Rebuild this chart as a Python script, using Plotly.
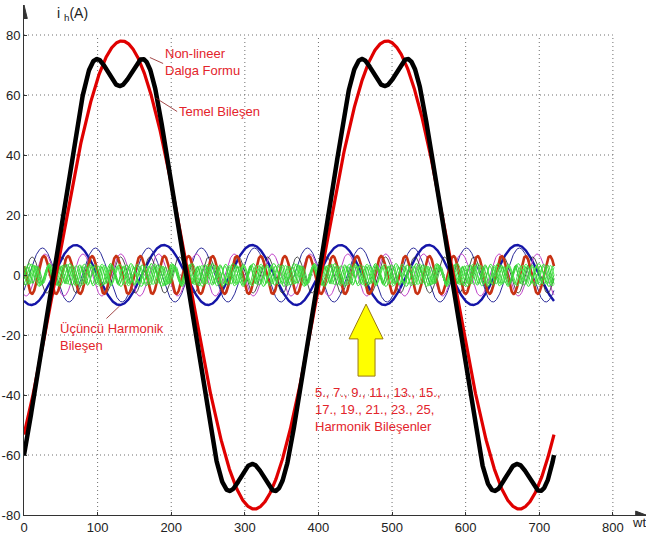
import numpy as np
import plotly.graph_objects as go

# ---------------- data ----------------
WT_RANGE = [0, 720]                 # plotted wt interval (degrees)
X_TICKS = [0, 100, 200, 300, 400, 500, 600, 700, 800]
Y_TICKS = [-80, -60, -40, -20, 0, 20, 40, 60, 80]

# fundamental (Temel Bileşen): amplitude / phase lag (deg)
FUND_AMP = 78
FUND_PHASE = 43

# non-linear waveform: odd-harmonic content around its own zero crossing
NONLIN_ORDERS = [1, 3, 5]
NONLIN_AMPS = [77.8, 9.5, -5.3]
NONLIN_ZERO = 40

# harmonic components (3rd ... 25th)
HARM_ORDERS = [3, 5, 7, 9, 11, 13, 15, 17, 19, 21, 23, 25]
HARM_AMPS = [10, 9, 7, 6, 6.3, 3.8, 3.6, 3.4, 3.2, 3.0, 2.9, 2.8]
HARM_PHASES = [120, 35, 110, 10, 208, 0, 60, 120, 180, 240, 300, 30]

# ---------------- styles ----------------
HARM_COLORS = ["#1515a8", "#2b2b9a", "#c040c8", "#222222", "#c83214",
               "#33dd33", "#44e844", "#2fcf2f", "#55ee55", "#3ad83a", "#4be04b", "#38d038"]
HARM_WIDTHS = [2.4, 1.0, 1.0, 0.8, 2.6, 1.0, 1.0, 1.0, 1.0, 1.0, 1.0, 1.0]
TXT_RED = "#e3242b"
FONT = "Liberation Sans, Arial, sans-serif"

wt = np.arange(WT_RANGE[0], WT_RANGE[1] + 0.25, 0.5)
rad = np.deg2rad

fig = go.Figure()

for n, a, p, c, w in zip(HARM_ORDERS, HARM_AMPS, HARM_PHASES, HARM_COLORS, HARM_WIDTHS):
    fig.add_trace(go.Scatter(x=wt, y=a * np.sin(rad(n * wt - p)), mode="lines",
                             line=dict(color=c, width=w), hoverinfo="skip"))

fund = FUND_AMP * np.sin(rad(wt - FUND_PHASE))
fig.add_trace(go.Scatter(x=wt, y=fund, mode="lines",
                         line=dict(color="#e00000", width=3.2), hoverinfo="skip"))

nonlin = sum(a * np.sin(rad(n * (wt - NONLIN_ZERO))) for n, a in zip(NONLIN_ORDERS, NONLIN_AMPS))
fig.add_trace(go.Scatter(x=wt, y=nonlin, mode="lines",
                         line=dict(color="#000000", width=4.5), hoverinfo="skip"))

# ---------------- dotted grid limited to the tick box ----------------
grid = dict(color="#6e6e6e", width=1, dash="1px,3px")
shapes = []
for t in X_TICKS[1:]:
    shapes.append(dict(type="line", xref="x", yref="y", x0=t, x1=t, y0=Y_TICKS[0], y1=Y_TICKS[-1],
                       line=grid, layer="below"))
for t in Y_TICKS[1:]:
    shapes.append(dict(type="line", xref="x", yref="y", x0=X_TICKS[0], x1=X_TICKS[-1], y0=t, y1=t,
                       line=grid, layer="below"))

# leader lines for the labels
lead = dict(color="#8b1a1a", width=0.8)
shapes.append(dict(type="line", xref="x", yref="y", x0=171, y0=72.5, x1=189, y1=70.5, line=lead))
shapes.append(dict(type="line", xref="x", yref="y", x0=179, y0=59, x1=208, y1=54.5, line=lead))
shapes.append(dict(type="line", xref="x", yref="y", x0=130, y0=-10.3, x1=112, y1=-14.5, line=lead))

# yellow arrow
shapes.append(dict(type="path", xref="x", yref="y",
                   path="M 464.7,-9.7 L 487.8,-21.3 L 476.9,-21.3 L 476.9,-33.7 "
                        "L 453.8,-33.7 L 453.8,-21.3 L 441.6,-21.3 Z",
                   fillcolor="#ffff00", line=dict(color="#9a7a10", width=1)))

# axis arrowheads
shapes.append(dict(type="path", xref="x", yref="y", path="M 845,-80 L 831,-78.7 L 831,-81.3 Z",
                   fillcolor="#333", line=dict(color="#333", width=1)))
shapes.append(dict(type="path", xref="x", yref="y", path="M 0,90 L -4.5,85.5 L 4.5,85.5 Z",
                   fillcolor="#333", line=dict(color="#333", width=1)))

annotations = [
    dict(x=189, y=71, xref="x", yref="y", text="Non-lineer<br>Dalga Formu", showarrow=False,
         xanchor="left", yanchor="middle", align="left",
         font=dict(family=FONT, size=13, color=TXT_RED)),
    dict(x=208, y=54.5, xref="x", yref="y", text="Temel Bileşen", showarrow=False,
         xanchor="left", yanchor="middle", font=dict(family=FONT, size=13, color=TXT_RED)),
    dict(x=46, y=-14.5, xref="x", yref="y", text="Üçüncü Harmonik<br>Bileşen", showarrow=False,
         xanchor="left", yanchor="top", align="left",
         font=dict(family=FONT, size=13, color=TXT_RED)),
    dict(x=393, y=-36, xref="x", yref="y",
         text="5., 7., 9., 11., 13., 15.,<br>17., 19., 21., 23., 25,<br>Harmonik Bileşenler",
         showarrow=False, xanchor="left", yanchor="top", align="left",
         font=dict(family=FONT, size=13, color=TXT_RED)),
    # axis titles
    dict(x=0.05, y=1.0, xref="paper", yref="paper", text="i <sub>h</sub>(A)", showarrow=False,
         xanchor="left", yanchor="top", yshift=2, font=dict(family=FONT, size=14, color="#222")),
    dict(x=836, y=-80, xref="x", yref="y", text="wt", showarrow=False,
         xanchor="center", yanchor="top", yshift=2, font=dict(family=FONT, size=13, color="#222")),
]

fig.update_layout(
    width=646, height=537,
    margin=dict(l=24, r=0, t=5, b=22),
    paper_bgcolor="white", plot_bgcolor="white",
    showlegend=False,
    shapes=shapes, annotations=annotations,
    font=dict(family=FONT, size=13, color="#222"),
    xaxis=dict(range=[0, 845], tickvals=X_TICKS, ticktext=[str(v) for v in X_TICKS],
               showgrid=False, zeroline=False, showline=True, linecolor="#333", linewidth=1,
               ticks="inside", ticklen=3, tickcolor="#333", tickfont=dict(size=13, color="#222")),
    yaxis=dict(range=[-80, 90], tickvals=Y_TICKS, ticktext=[str(v) for v in Y_TICKS],
               showgrid=False, zeroline=False, showline=True, linecolor="#333", linewidth=1,
               ticks="inside", ticklen=3, tickcolor="#333", tickfont=dict(size=13, color="#222")),
)

fig.write_html("out.html")
